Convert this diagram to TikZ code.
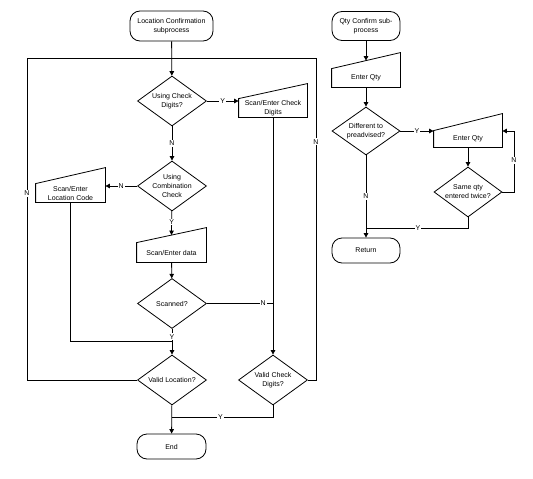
\documentclass[tikz,border=0pt]{standalone}
\usepackage{fontspec}
\setmainfont{Liberation Sans}
\usetikzlibrary{shapes.geometric, arrows.meta, positioning, calc}

\begin{document}
\begin{tikzpicture}[x=1pt, y=-1pt, line width=0.8pt,
    font=\fontsize{7}{9}\selectfont,
    term/.style={draw, rounded corners=10pt, minimum width=69pt, minimum height=25pt, align=center, inner sep=1pt},
    dec/.style={draw, diamond, aspect=1.38, inner sep=-3pt, minimum width=69pt, minimum height=50pt, align=center},
    inbox/.style={minimum width=69pt, minimum height=18pt, inner sep=1pt, align=center,
        append after command={\pgfextra{\draw (\tikzlastnode.south west) -- (\tikzlastnode.north west) -- ([yshift=#1]\tikzlastnode.north east) -- (\tikzlastnode.south east) -- cycle;}}},
    inbox/.default=15pt,
    lbl/.style={fill=white, inner sep=1pt},
    flow/.style={-{Triangle[length=4.5pt, width=4.5pt]}}]
                \useasboundingbox (0,0) rectangle (533,479);

                % Location confirmation
                \node[term, minimum width=83pt, minimum height=30pt] (lcstart) at (171.5,26) {Location Confirmation\\subprocess};
                \node[dec] (chkdig) at (172,101) {Using Check\\Digits?};
                \node[inbox, minimum width=68pt] (cdentry) at (273,108) {Scan/Enter Check\\Digits};
                \node[dec] (combo) at (172,186) {Using\\Combination\\Check};
                \node[inbox=16pt] (lcentry) at (70.5,193) {Scan/Enter\\Location Code};
                \node[inbox, minimum height=19pt] (sdentry) at (171.5,252.5) {Scan/Enter data};
                \node[dec] (scanned) at (172,303.5) {Scanned?};
                \node[dec] (validloc) at (172,380) {Valid Location?};
                \node[dec] (validcd) at (273,380) {Valid Check\\Digits?};
                \node[term] (lcend) at (171.5,446.5) {End};

                \coordinate (loopl) at (27,58);
                \coordinate (loopr) at (316,58);
                \coordinate (joinl) at (172,341);
                \coordinate (joinr) at (172,417);

                \draw[flow] (lcstart) -- (chkdig);
                \draw[flow] (chkdig.east) -- node[lbl] (ycd) {Y} (chkdig.east -| cdentry.west);
                \draw[flow] (chkdig) -- node[lbl] (ncd) {N} (combo);
                \draw[flow] (combo.west) -- node[lbl] (ncombo) {N} (combo.west -| lcentry.east);
                \draw[flow] (combo) -- node[lbl, pos=0.45] (ycombo) {Y} ([yshift=7.5pt]sdentry.north);
                \draw[flow] (sdentry) -- (scanned);
                \draw (lcentry.south) |- (joinl);
                \draw[flow] (scanned) -- node[lbl, pos=0.3] (yscan) {Y} (validloc);
                \draw (scanned.east) -- node[lbl, pos=0.85] (nscan) {N} (scanned.east -| cdentry.south);
                \draw[flow] (cdentry) -- (validcd);
                \draw (validloc.west) -| node[lbl, pos=0.79] (nleft) {N} (loopl) -- (loopr) |- node[lbl, pos=0.13] (nright) {N} (validcd.east);
                \draw (validcd.south) |- node[lbl, pos=0.76] (yvcd) {Y} (joinr);
                \draw[flow] (validloc) -- (lcend);

                % Qty confirmation
                \node[term, minimum width=68pt, minimum height=29pt] (qcstart) at (366,26) {Qty Confirm sub-\\process};
                \node[inbox=16pt, minimum width=68pt] (qtyone) at (366,78) {Enter Qty};
                \node[dec, minimum width=68pt, minimum height=48pt] (diffpre) at (366,131) {Different to\\preadvised?};
                \node[inbox=17pt, minimum width=68pt, minimum height=16pt] (qtytwo) at (468,139) {Enter Qty};
                \node[dec, minimum width=68pt] (twice) at (468,192) {Same qty\\entered twice?};
                \node[term, minimum width=68pt] (qcret) at (366,250.5) {Return};

                \coordinate (qloop) at (514,131);
                \coordinate (qjoin) at (366,228);

                \draw[flow] (qcstart) -- ([yshift=8pt]qtyone.north);
                \draw[flow] (qtyone) -- (diffpre);
                \draw[flow] (diffpre.east) -- node[lbl] (ydiff) {Y} (diffpre.east -| qtytwo.west);
                \draw[flow] (qtytwo) -- (twice);
                \draw[flow] (twice.east) -| node[lbl, pos=0.76] (ntwice) {N} (qloop) -- (qloop -| qtytwo.east);
                \draw (twice.south) |- node[lbl, pos=0.745] (ytwice) {Y} (qjoin);
                \draw[flow] (diffpre) -- node[lbl] (ndiff) {N} (qcret);
            \end{tikzpicture}
\end{document}
